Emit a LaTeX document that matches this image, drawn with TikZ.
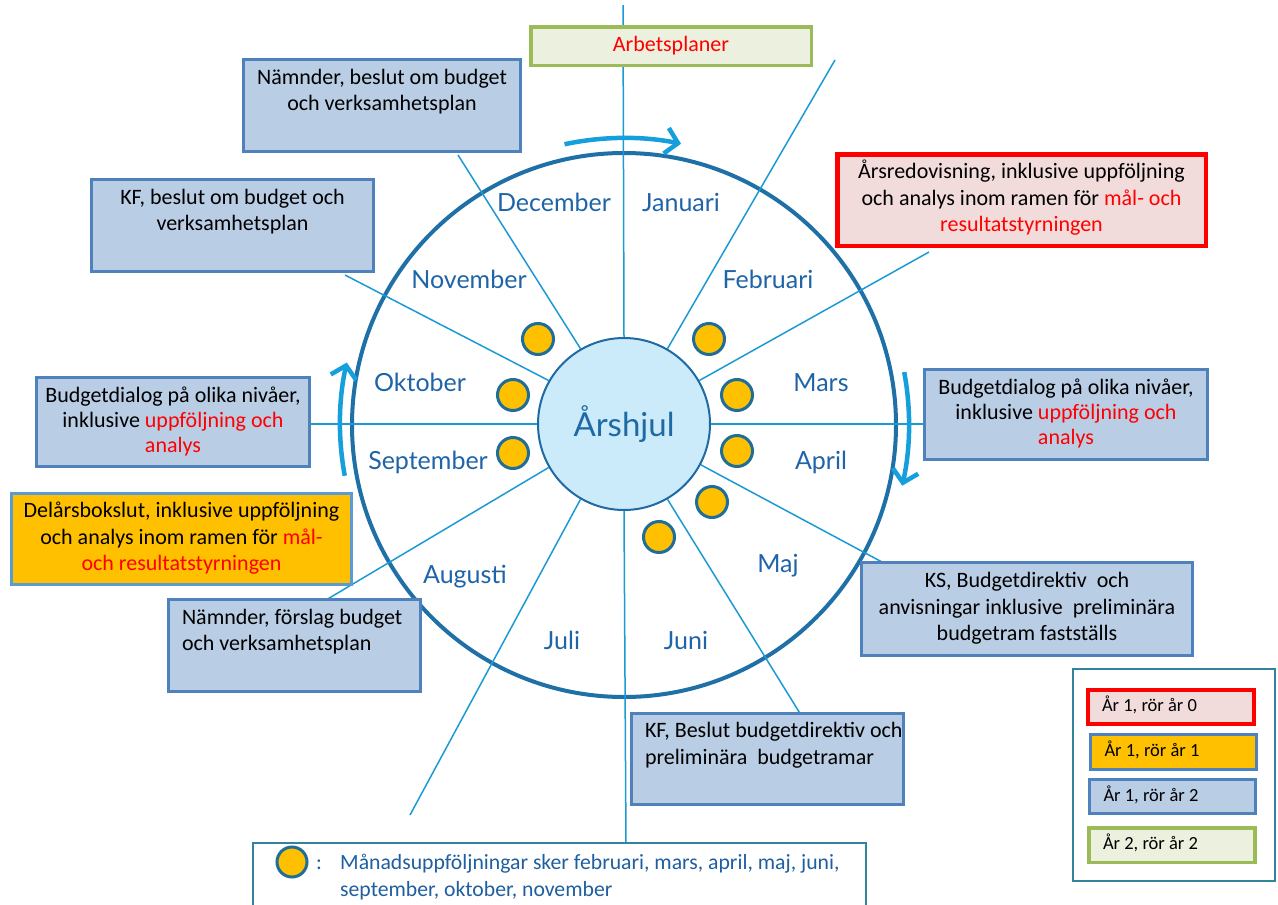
\documentclass[tikz,border=0pt]{standalone}
\usepackage{fontspec}
\setmainfont{Carlito}
\newfontfamily\gill{Lato}
\usetikzlibrary{arrows.meta}
\definecolor{boxfill}{HTML}{B9CDE5}
\definecolor{boxedge}{HTML}{4F81BD}
\definecolor{redfill}{HTML}{F2DCDB}
\definecolor{redline}{HTML}{FF0000}
\definecolor{orangefill}{HTML}{FFC000}
\definecolor{orangeedge}{HTML}{5B9BD5}
\definecolor{greenfill}{HTML}{EBF1DE}
\definecolor{greenedge}{HTML}{9BBB59}
\definecolor{monthblue}{HTML}{1F64A8}
\definecolor{ringblue}{HTML}{1F70A6}
\definecolor{lineblue}{HTML}{1B9AD6}
\definecolor{arrowblue}{HTML}{15A0DD}
\definecolor{hubfill}{HTML}{CCEBFA}
\definecolor{hubedge}{HTML}{1F6AA5}
\definecolor{dotedge}{HTML}{1F6E9A}
\definecolor{frameteal}{HTML}{31849B}
\definecolor{legblue}{HTML}{1F5F9F}
\tikzset{
  boxfont/.style={font=\fontsize{22}{26.5}\selectfont},
  infobox/.style={rectangle, draw=boxedge, fill=boxfill, line width=3pt, inner sep=0pt, align=center, boxfont},
  leftbox/.style={infobox, align=flush left, inner xsep=13.5pt, inner ysep=0pt},
  redbox/.style={infobox, draw=redline, fill=redfill, line width=4.5pt},
  orangebox/.style={infobox, draw=orangeedge, fill=orangefill},
  greenbox/.style={infobox, draw=greenedge, fill=greenfill, line width=3.5pt},
  month/.style={font=\gill\fontsize{25}{30}\selectfont, text=monthblue, anchor=base},
  dot/.style={circle, fill=orangefill, draw=dotedge, line width=3pt, minimum size=31pt, inner sep=0pt},
  radial/.style={draw=lineblue, line width=1.5pt},
  flow/.style={draw=arrowblue, line width=4.5pt, -{Straight Barb[length=12pt,width=26pt]}},
  frame/.style={rectangle, draw=frameteal, line width=2pt, fill=white, inner sep=0pt},
  legitem/.style={rectangle, line width=3pt, inner xsep=14pt, inner ysep=0pt, text width=138pt, align=flush left,
    font=\fontsize{18.5}{22}\selectfont, text height=13pt, text depth=4pt},
  legtext/.style={font=\fontsize{21.7}{26.5}\selectfont, text=legblue, anchor=base west, inner sep=0pt}
}
\begin{document}
\begin{tikzpicture}[x=1pt,y=-1pt]
\path[use as bounding box, clip] (0,0) rectangle (1278,905);
\fill[white] (0,0) rectangle (1278,905);

% wheel and hub
\node[circle, draw=ringblue, line width=4pt, minimum size=544pt, inner sep=0pt] (wheel) at (624,425) {};
\node[circle, draw=hubedge, fill=hubfill, line width=2pt, minimum size=172pt, inner sep=0pt,
      font=\gill\fontsize{33}{38}\selectfont, text=hubedge] (hub) at (624,424) {Årshjul};

% radial lines
\coordinate (e90) at (623,5);
\coordinate (e60) at (835,60);
\coordinate (e30) at (929,252);
\coordinate (e0) at (925,424);
\coordinate (em30) at (882,562);
\coordinate (em60) at (801,715);
\coordinate (em90) at (626,845);
\coordinate (em120) at (410,815);
\coordinate (e210) at (326,600);
\coordinate (e180) at (309,424);
\coordinate (e150) at (345,275);
\coordinate (e120) at (458,155);
\draw[radial] (hub.90) -- (e90);
\draw[radial] (hub.60) -- (e60);
\draw[radial] (hub.30) -- (e30);
\draw[radial] (hub.0) -- (e0);
\draw[radial] (hub.-28) -- (em30);
\draw[radial] (hub.-60) -- (em60);
\draw[radial] (hub.-90) -- (em90);
\draw[radial] (hub.-120) -- (em120);
\draw[radial] (hub.210) -- (e210);
\draw[radial] (hub.180) -- (e180);
\draw[radial] (hub.150) -- (e150);
\draw[radial] (hub.120) -- (e120);

% monthly follow-up dots
\node[dot] (dnov) at (538,339) {};
\node[dot] (dokt) at (513,395) {};
\node[dot] (dsep) at (513,453) {};
\node[dot] (dfeb) at (709,339) {};
\node[dot] (dmar) at (737,395) {};
\node[dot] (dapr) at (737,451) {};
\node[dot] (dmaj) at (712,502) {};
\node[dot] (djun) at (659,537) {};

% month labels
\node[month] (mdec) at (554,211) {December};
\node[month] (mjan) at (681,211) {Januari};
\node[month] (mfeb) at (768,288) {Februari};
\node[month] (mnov) at (469,288) {November};
\node[month] (mokt) at (420,391) {Oktober};
\node[month] (msep) at (428,469) {September};
\node[month] (mmar) at (821,391) {Mars};
\node[month] (mapr) at (821,469) {April};
\node[month] (mmaj) at (778,572) {Maj};
\node[month] (maug) at (465,583) {Augusti};
\node[month] (mjul) at (562,649) {Juli};
\node[month] (mjun) at (686,649) {Juni};

% direction arrows
\draw[flow] (hub.center) ++(102:286pt) arc[start angle=102, end angle=78.5, radius=286pt];
\draw[flow] (hub.center) ++(10.5:285pt) arc[start angle=10.5, end angle=-12.5, radius=285pt];
\draw[flow] (hub.center) ++(190.5:284pt) arc[start angle=190.5, end angle=167.5, radius=284pt];

% boxes
\node[greenbox, minimum width=280.5pt, minimum height=38.5pt] (arbet) at (671,46)
  {\strut\textcolor{redline}{Arbetsplaner}};
\node[infobox, minimum width=277pt, minimum height=92pt] (nbeslut) at (382,105.5)
  {\strut Nämnder, beslut om budget\\\strut och verksamhetsplan\\\strut};
\node[infobox, minimum width=282pt, minimum height=92pt] (kfbeslut) at (232.5,225.5)
  {\strut KF, beslut om budget och\\\strut verksamhetsplan\\\strut};
\node[redbox, minimum width=368.5pt, minimum height=91.5pt] (arsred) at (1021.5,200)
  {\strut Årsredovisning, inklusive uppföljning\\\strut och analys inom ramen för \textcolor{redline}{mål- och}\\\strut\textcolor{redline}{resultatstyrningen}};
\node[infobox, minimum width=283pt, minimum height=90pt, font=\fontsize{22}{25}\selectfont] (bdright) at (1066,414.5)
  {\strut Budgetdialog på olika nivåer,\\\strut inklusive \textcolor{redline}{uppföljning och}\\\strut\textcolor{redline}{analys}};
\node[infobox, minimum width=273pt, minimum height=89pt, font=\fontsize{22}{25}\selectfont] (bdleft) at (173,422)
  {\strut Budgetdialog på olika nivåer,\\\strut inklusive \textcolor{redline}{uppföljning och}\\\strut\textcolor{redline}{analys}};
\node[orangebox, minimum width=340pt, minimum height=91pt] (delars) at (181.5,539)
  {\strut Delårsbokslut, inklusive uppföljning\\\strut och analys inom ramen för \textcolor{redline}{mål-}\\\strut\textcolor{redline}{och resultatstyrningen}};
\node[leftbox, text width=225pt, minimum height=92pt] (nforslag) at (294.5,645.5)
  {\strut Nämnder, förslag budget\\\strut och verksamhetsplan\\\strut};
\node[infobox, minimum width=331pt, minimum height=93pt] (ks) at (1027,609)
  {\strut KS, Budgetdirektiv\ \ och\\\strut anvisningar inklusive\ \ preliminära\\\strut budgetram fastställs};
\node[leftbox, text width=245pt, minimum height=91pt] (kfdir) at (767.5,759)
  {\strut\mbox{KF, Beslut budgetdirektiv och}\\\strut preliminära\ \ budgetramar\\\strut};

% bottom legend
\node[frame, minimum width=613pt, minimum height=90pt] (mlegend) at (559.5,888) {};
\node[dot, minimum size=30pt] (ldot) at (292,862) {};
\node[legtext] (lcolon) at (316,869) {:};
\node[legtext] (lline1) at (340,869) {Månadsuppföljningar sker februari, mars, april, maj, juni,};
\node[legtext] (lline2) at (340,896) {september, oktober, november};

% colour legend
\node[frame, minimum width=202pt, minimum height=212pt] (clegend) at (1174,775) {};
\node[legitem, draw=redline, fill=redfill, line width=4pt, minimum height=34pt] (lr) at (1171,707) {År 1, rör år 0};
\node[legitem, draw=boxedge, fill=orangefill, minimum height=35pt] (lo) at (1173.5,752) {År 1, rör år 1};
\node[legitem, draw=boxedge, fill=boxfill, minimum height=34pt] (lb) at (1172.5,796.5) {År 1, rör år 2};
\node[legitem, draw=greenedge, fill=greenfill, line width=3.5pt, minimum height=34.5pt] (lg) at (1172,845) {År 2, rör år 2};
\end{tikzpicture}
\end{document}
